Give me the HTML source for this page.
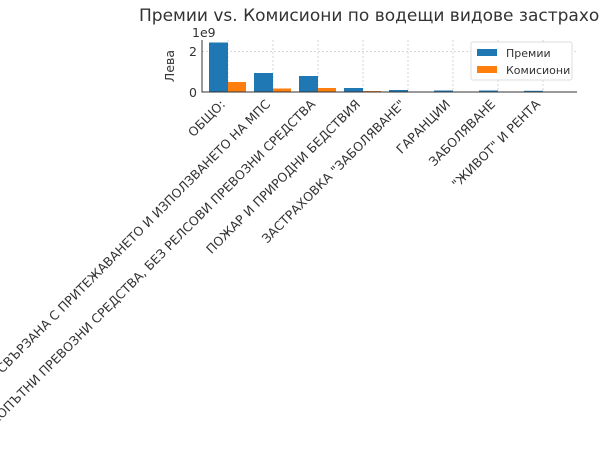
<!DOCTYPE html>
<html><head><meta charset="utf-8"><style>
html,body{margin:0;padding:0;background:#fff;width:600px;height:450px;overflow:hidden}
text{font-family:"DejaVu Sans","Liberation Sans",sans-serif;fill:#333}
</style></head><body>
<svg width="600" height="450" viewBox="0 0 600 450" xmlns="http://www.w3.org/2000/svg">
<text x="139" y="21" font-size="17" fill="#333">Премии vs. Комисиони по водещи видове застраховки</text>
<g stroke="#ccc" stroke-dasharray="2,2" stroke-width="0.8">
<line x1="202" y1="51.6" x2="577" y2="51.6"/>
<line x1="228" y1="40" x2="228" y2="92"/><line x1="273" y1="40" x2="273" y2="92"/>
<line x1="318" y1="40" x2="318" y2="92"/><line x1="363" y1="40" x2="363" y2="92"/>
<line x1="408" y1="40" x2="408" y2="92"/><line x1="453" y1="40" x2="453" y2="92"/>
<line x1="498" y1="40" x2="498" y2="92"/><line x1="543" y1="40" x2="543" y2="92"/>
</g>
<g fill="#1f77b4">
<rect x="209" y="42.5" width="19" height="49.5"/>
<rect x="254" y="73" width="19" height="19"/>
<rect x="299" y="76" width="19" height="16"/>
<rect x="344" y="88" width="19" height="4"/>
<rect x="389" y="90" width="19" height="2"/>
<rect x="434" y="90.5" width="19" height="1.5"/>
<rect x="479" y="90.5" width="19" height="1.5"/>
<rect x="524" y="90.8" width="19" height="1.2"/>
</g>
<g fill="#ff7f0e">
<rect x="228" y="82" width="18" height="10"/>
<rect x="273" y="88.5" width="18" height="3.5"/>
<rect x="318" y="88" width="18" height="4"/>
<rect x="363" y="91" width="18" height="1"/>
</g>
<line x1="202" y1="40" x2="202" y2="92.5" stroke="#333" stroke-width="1"/>
<line x1="202" y1="92" x2="577" y2="92" stroke="#333" stroke-width="1"/>
<text x="197" y="97" font-size="12.5" text-anchor="end">0</text>
<text x="197" y="56" font-size="12.5" text-anchor="end">2</text>
<text x="192" y="37" font-size="12.5">1e9</text>
<text transform="translate(174,66) rotate(-90)" font-size="12.5" text-anchor="middle">Лева</text>
<rect x="471" y="42" width="101" height="38" fill="#fff" stroke="#ddd" rx="2"/>
<rect x="477" y="49" width="20" height="7" fill="#1f77b4"/>
<text x="506" y="57" font-size="11">Премии</text>
<rect x="477" y="66" width="20" height="7" fill="#ff7f0e"/>
<text x="506" y="74" font-size="11">Комисиони</text>
<g font-size="12.5" text-anchor="end">
<text transform="translate(226,105) rotate(-45)">ОБЩО:</text>
<text transform="translate(271,105) rotate(-45)">ГРАЖДАНСКА ОТГОВОРНОСТ, СВЪРЗАНА С ПРИТЕЖАВАНЕТО И ИЗПОЛЗВАНЕТО НА МПС</text>
<text transform="translate(316,105) rotate(-45)">ЗАСТРАХОВКА НА СУХОПЪТНИ ПРЕВОЗНИ СРЕДСТВА, БЕЗ РЕЛСОВИ ПРЕВОЗНИ СРЕДСТВА</text>
<text transform="translate(361,105) rotate(-45)">ПОЖАР И ПРИРОДНИ БЕДСТВИЯ</text>
<text transform="translate(406,105) rotate(-45)">ЗАСТРАХОВКА "ЗАБОЛЯВАНЕ"</text>
<text transform="translate(451,105) rotate(-45)">ГАРАНЦИИ</text>
<text transform="translate(496,105) rotate(-45)">ЗАБОЛЯВАНЕ</text>
<text transform="translate(541,105) rotate(-45)">"ЖИВОТ" И РЕНТА</text>
</g>
</svg>
</body></html>
